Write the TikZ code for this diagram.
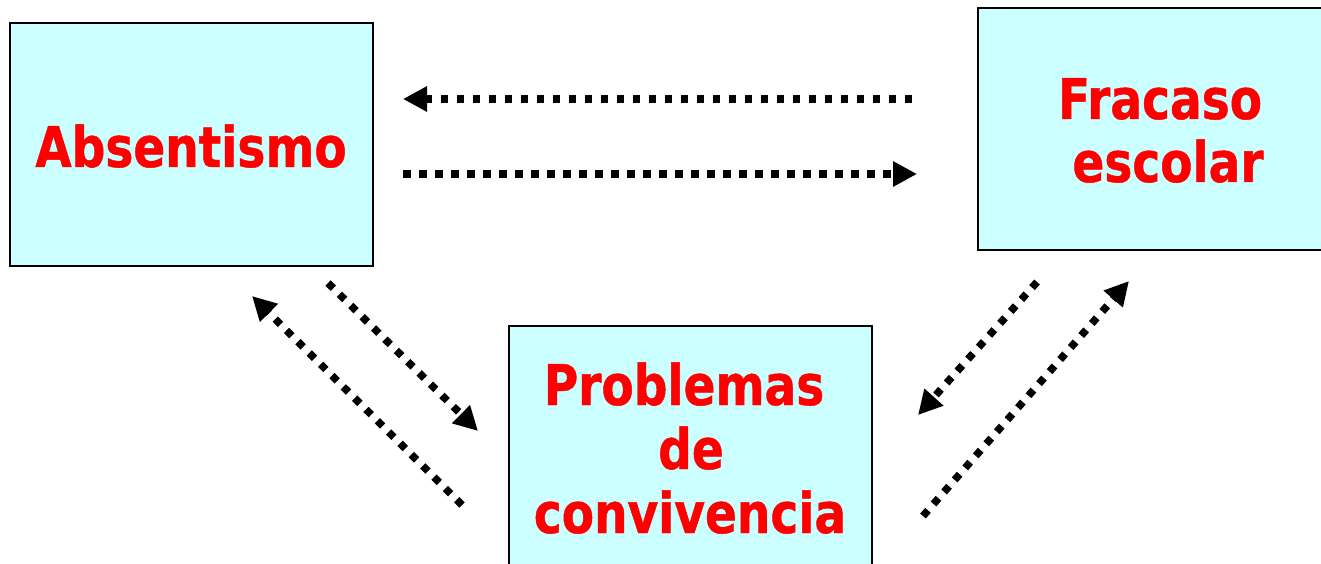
\documentclass[tikz,border=0pt]{standalone}
\usepackage{fontspec}
\newfontfamily\lblfont[FakeStretch=0.84,FakeBold=0.8]{DejaVu Sans Bold}
\usetikzlibrary{arrows.meta}
\definecolor{boxfill}{HTML}{CCFFFF}
\definecolor{lblred}{HTML}{FF0000}
\tikzset{
  box/.style={draw=black, line width=2.6pt, fill=boxfill, rectangle, inner sep=0pt},
  lbl/.style={text=lblred, font=\lblfont\fontsize{56}{64}\selectfont, inner sep=0pt, anchor=base},
  dotarrow/.style={line width=7.5pt, dash pattern=on 7.5pt off 8.5pt, -{Triangle[length=24pt,width=24pt]}}
}
\begin{document}
\begin{tikzpicture}[x=1pt,y=-1pt]
\useasboundingbox (0,0) rectangle (1321,564);
\clip (0,0) rectangle (1321,564);
% boxes
\node[box, minimum width=363pt, minimum height=243pt] (abs) at (191.5,144.5) {};
\node[box, minimum width=367pt, minimum height=242pt] (fra) at (1161.5,129) {};
\node[box, minimum width=363pt, minimum height=245pt] (pro) at (690.5,448.5) {};
% labels
\node[lbl] (absT) at (191,167) {Absentismo};
\node[lbl] (fraT1) at (1160,119) {Fracaso};
\node[lbl] (fraT2) at (1168,182) {escolar};
\node[lbl] (proT1) at (684,405) {Problemas};
\node[lbl] (proT2) at (691,469) {de};
\node[lbl] (proT3) at (690,533) {convivencia};
% arrow endpoints
\coordinate (t1s) at (912,99);  \coordinate (t1e) at (403,99);
\coordinate (t2s) at (403,174); \coordinate (t2e) at (917,174);
\coordinate (l1s) at (328,283); \coordinate (l1e) at (478,431);
\coordinate (l2s) at (462,505); \coordinate (l2e) at (252,296);
\coordinate (r1s) at (1037,282); \coordinate (r1e) at (918,415);
\coordinate (r2s) at (923,516); \coordinate (r2e) at (1129,281);
% arrows
\draw[dotarrow] (t1s) -- (t1e);
\draw[dotarrow] (t2s) -- (t2e);
\draw[dotarrow] (l1s) -- (l1e);
\draw[dotarrow] (l2s) -- (l2e);
\draw[dotarrow] (r1s) -- (r1e);
\draw[dotarrow] (r2s) -- (r2e);
\end{tikzpicture}
\end{document}
